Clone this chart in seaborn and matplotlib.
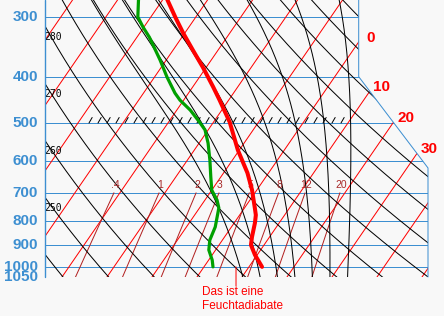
import numpy as np
import pandas as pd
import matplotlib
matplotlib.use("Agg")
import matplotlib.pyplot as plt
import seaborn as sns
from matplotlib.patches import Polygon

# ---------------- data ----------------
isobars = [300, 400, 500, 600, 700, 800, 900, 1000, 1050]
isobar_labels = ["300", "400", "500", "600", "700", "800", "900", "1000", "1050"]
isotherms = list(range(-110, 60, 10))
isotherm_labels = [0, 10, 20, 30]
dry_adiabats = list(range(230, 430, 10))
dry_labels = [250, 260, 270, 280]
moist_adiabats = [8, 12, 16, 20, 24, 28, 32]
mixing_ratios = [0.4, 1, 2, 3, 5, 8, 12, 20]
mixing_labels = [".4", "1", "2", "3", "5", "8", "12", "20"]

temp_p = [276, 300, 324, 352, 382, 420, 448, 498, 570, 636, 690, 753, 779, 809, 866, 900, 944, 1000]
temp_t = [-49.0, -44.6, -40.4, -35.6, -30.8, -25.5, -22.0, -16.4, -10.3, -4.7, -1.1, 2.3, 3.6, 4.6, 6.1, 7.1, 9.5, 12.9]
dew_p = [276, 300, 315, 331, 369, 401, 433, 448, 470, 498, 517, 551, 598, 649, 691, 725, 753, 825, 879, 922, 968, 1000]
dew_t = [-55.4, -52.9, -50.2, -47.2, -41.4, -37.2, -33.0, -30.8, -27.0, -23.1, -20.7, -18.0, -15.0, -12.2, -10.0, -7.3, -5.7, -3.6, -2.8, -1.5, 0.8, 2.0]

annotation = "Das ist eine\nFeuchtadiabate"

# ---------------- geometry ----------------
SKEW = 31.73
P_BOT, P_TOP = 1050.0, 276.5
XL, XR = -33.78, 51.33
XR1 = 35.93
P_KNEE1, P_KNEE2 = 400.0, 621.0

BLUE = "#3d8fd1"
LW = 0.72


def skx(t, p):
    return np.asarray(t) + SKEW * np.log(P_BOT / np.asarray(p))


def boundary_x(p):
    p = np.asarray(p, dtype=float)
    frac = (np.log(p) - np.log(P_KNEE1)) / (np.log(P_KNEE2) - np.log(P_KNEE1))
    frac = np.clip(frac, 0, 1)
    return XR1 + frac * (XR - XR1)


def es(tc):
    return 6.112 * np.exp(17.67 * tc / (tc + 243.5))


def moist_line(tw, pgrid_up, pgrid_down):
    Rd, cp, Lv, eps = 287.04, 1005.7, 2.501e6, 0.622

    def f(T, p):
        e = es(T - 273.15)
        rs = eps * e / (p - e)
        return (Rd * T + Lv * rs) / (p * (cp + Lv * Lv * rs * eps / (Rd * T * T)))

    def integ(grid):
        T = tw + 273.15
        out = [T]
        for i in range(1, len(grid)):
            p0, h = grid[i - 1], grid[i] - grid[i - 1]
            k1 = f(T, p0)
            k2 = f(T + 0.5 * h * k1, p0 + 0.5 * h)
            k3 = f(T + 0.5 * h * k2, p0 + 0.5 * h)
            k4 = f(T + h * k3, p0 + h)
            T = T + h * (k1 + 2 * k2 + 2 * k3 + k4) / 6
            out.append(T)
        return np.array(out) - 273.15

    tu = integ(pgrid_up)
    td = integ(pgrid_down)
    p = np.concatenate([pgrid_down[::-1], pgrid_up[1:]])
    t = np.concatenate([td[::-1], tu[1:]])
    return t, p


sns.set_theme(style="white")
plt.rcParams["font.family"] = ["Liberation Sans", "DejaVu Sans"]

fig = plt.figure(figsize=(4.44, 3.16), dpi=100)
fig.patch.set_facecolor("#f8f8f8")
ax = fig.add_axes([45 / 444, (316 - 277) / 316, 383 / 444, 277 / 316])
ax.set_facecolor("#f8f8f8")
ax.set_yscale("log")
ax.set_xlim(XL, XR)
ax.set_ylim(P_BOT, P_TOP)
ax.set_xticks([])
ax.set_yticks([])
ax.minorticks_off()
for s in ax.spines.values():
    s.set_visible(False)

clip = Polygon([(XL - 0.5, P_BOT * 1.01), (XL - 0.5, P_TOP * 0.95), (XR1, P_TOP * 0.95),
                (XR1, P_KNEE1), (XR, P_KNEE2), (XR, P_BOT * 1.01)],
               closed=True, transform=ax.transData, fill=False, visible=False)
ax.add_patch(clip)

pfine = np.geomspace(P_TOP * 0.95, P_BOT * 1.01, 300)

# isobars
for p in isobars:
    ln, = ax.plot([XL, XR], [p, p], color=BLUE, lw=LW, zorder=2)
    ln.set_clip_path(clip)
    ax.text(XL - 7.0 / 4.5, p, isobar_labels[isobars.index(p)], ha="right", va="center",
            color=BLUE, fontsize=11, fontweight="bold", clip_on=False)

# isotherms
for t in isotherms:
    ln, = ax.plot(skx(np.full_like(pfine, t), pfine), pfine, color="#ff0000", lw=LW, zorder=2)
    ln.set_clip_path(clip)
for t in isotherm_labels:
    xs = skx(np.full_like(pfine, t), pfine) - boundary_x(pfine)
    i = np.argmin(np.abs(xs))
    ax.annotate(str(t), xy=(skx(t, pfine[i]), pfine[i]), xytext=(8.6, 2.6),
                textcoords="offset points", ha="center", va="center", color="#ff0000",
                fontsize=11, fontweight="bold", annotation_clip=False)

# dry adiabats
for th in dry_adiabats:
    tt = th * (pfine / 1000.0) ** 0.2857 - 273.15
    ln, = ax.plot(skx(tt, pfine), pfine, color="black", lw=LW, zorder=3)
    ln.set_clip_path(clip)
for th in dry_labels:
    tt = th * (pfine / 1000.0) ** 0.2857 - 273.15
    i = np.argmin(np.abs(skx(tt, pfine) - XL))
    ax.annotate(str(th), xy=(XL, pfine[i]), xytext=(6.1, -7.5), textcoords="offset points",
                ha="center", va="center", color="black", fontsize=7,
                family="DejaVu Sans Mono", annotation_clip=False)

# moist adiabats
pup = np.linspace(1000, P_TOP * 0.95, 400)
pdn = np.linspace(1000, P_BOT * 1.01, 30)
for tw in moist_adiabats:
    tt, pp = moist_line(tw, pup, pdn)
    ln, = ax.plot(skx(tt, pp), pp, color="black", lw=LW, zorder=3)
    ln.set_clip_path(clip)

# mixing ratio lines
pmix = np.linspace(700, P_BOT * 1.01, 60)
for w, lab in zip(mixing_ratios, mixing_labels):
    e = w * pmix / (622.0 + w)
    a = np.log(e / 6.112)
    td = 243.5 * a / (17.67 - a)
    ln, = ax.plot(skx(td, pmix), pmix, color="#b22222", lw=LW, zorder=2)
    ln.set_clip_path(clip)
    ax.annotate(lab, xy=(skx(td[0], 700), 700), xytext=(0.7, 2.0), textcoords="offset points",
                ha="center", va="bottom", color="#a82828", fontsize=7.5)

# 500 hPa hatch marks
for xh in np.arange(-24, 33, 2.0):
    ax.plot([xh, xh + 0.7], [500, 487], color="black", lw=LW, zorder=3)

# boundary
ax.plot([XL, XL], [P_BOT, P_TOP], color=BLUE, lw=1.0, zorder=4, clip_on=False)
ax.plot([XR1, XR1, XR, XR], [P_TOP, P_KNEE1, P_KNEE2, P_BOT], color=BLUE, lw=LW, zorder=4, clip_on=False)

# profiles
df_t = pd.DataFrame({"x": skx(temp_t, temp_p), "p": temp_p})
df_d = pd.DataFrame({"x": skx(dew_t, dew_p), "p": dew_p})
sns.lineplot(data=df_d, x="x", y="p", sort=False, estimator=None, color="#00a000", lw=2.3, ax=ax, zorder=5)
sns.lineplot(data=df_t, x="x", y="p", sort=False, estimator=None, color="#ff0000", lw=2.9, ax=ax, zorder=6)
ax.set_xlabel("")
ax.set_ylabel("")
ax.set_xlim(XL, XR)
ax.set_ylim(P_BOT, P_TOP)

# annotation
xa = (236 - 197) / 4.5
ax.annotate("", xy=(xa, 1000), xytext=(xa, P_BOT * np.exp(9 / 207.6)),
            arrowprops=dict(arrowstyle="-", color="#ff0000", lw=LW, shrinkA=0, shrinkB=0),
            annotation_clip=False)
fig.text(202 / 444, 1 - 299 / 316, annotation, ha="left", va="center", color="#ff0000",
         fontsize=8.5, linespacing=1.27)

fig.savefig("out.png", dpi=100, facecolor=fig.get_facecolor())
